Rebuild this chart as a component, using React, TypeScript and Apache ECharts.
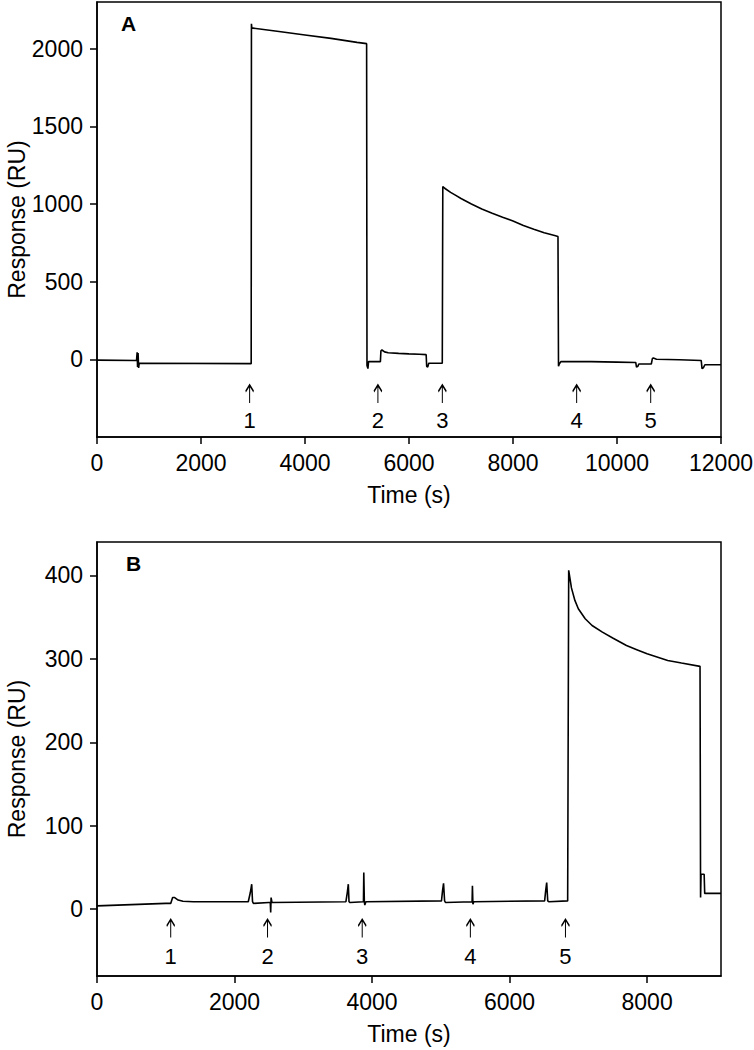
import React, { useEffect, useRef } from "react";
import * as echarts from "echarts";

// ---------- Panel A data ----------
const timeA = [
  0, 760, 772, 780, 790, 800, 812, 825, 2965, 2970, 2978, 3000, 3500, 4000, 4500, 5000,
  5185, 5192, 5210, 5222, 5240, 5450, 5460, 5480, 5530, 5600, 5800, 6000, 6200, 6330,
  6340, 6360, 6380, 6640, 6650, 6660, 6700, 6800, 6900, 7000, 7200, 7400, 7600, 7800,
  8000, 8200, 8400, 8600, 8800, 8865, 8875, 8890, 8920, 9500, 10000, 10360, 10375,
  10400, 10420, 10660, 10680, 10700, 10760, 11200, 11620, 11635, 11660, 11690, 12000,
];
const responseA = [
  -5, -8, 45, -50, 40, -55, -25, -25, -28, 2160, 2130, 2132, 2110, 2088, 2066, 2040,
  2032, -40, -60, -15, -15, -15, 55, 60, 48, 42, 38, 35, 33, 30,
  -45, -50, -25, -25, 1112, 1108, 1098, 1075, 1055, 1035, 1000, 968, 940, 914,
  891, 862, 838, 815, 797, 790, -45, -30, -15, -15, -18, -20, -50,
  -45, -30, -30, 5, 8, 0, -3, -8, -60, -55, -35, -35,
];
const arrowTimesA = [2935, 5402, 6641, 9224, 10648];

// ---------- Panel B data ----------
const timeB = [
  0, 1000, 1072, 1100, 1130, 1180, 1250, 1400, 2200, 2230, 2250, 2262, 2275, 2500, 2520,
  2526, 2532, 2545, 3620, 3640, 3655, 3665, 3680, 3875, 3880, 3888, 3895, 3910, 5010,
  5025, 5040, 5055, 5070, 5455, 5460, 5467, 5480, 6510, 6525, 6540, 6555, 6570, 6845,
  6860, 6900, 6950, 7000, 7100, 7200, 7350, 7500, 7700, 7850, 8000, 8300, 8500, 8770,
  8778, 8785, 8830, 8838, 9075,
];
const responseB = [
  4, 7, 7, 14, 14, 11, 9.5, 9, 9, 20, 30, 9, 7, 8, 8,
  -4, 14, 8, 9, 20, 30, 9, 8, 9, 44, 9, 5, 9, 10,
  22, 31, 10, 8, 9, 28, 6, 9, 10, 22, 32, 10, 9, 10,
  406, 385, 370, 360, 348, 340, 332, 325, 316, 311, 306, 298, 295, 291,
  14, 42, 42, 19, 19,
];
const arrowTimesB = [1072, 2480, 3857, 5430, 6813];

const arrowLabels = ["1", "2", "3", "4", "5"];
const xTicksA = [0, 2000, 4000, 6000, 8000, 10000, 12000];
const yTicksA = [0, 500, 1000, 1500, 2000];
const xTicksB = [0, 2000, 4000, 6000, 8000];
const yTicksB = [0, 100, 200, 300, 400];

const FONT = "'Liberation Sans', Arial, sans-serif";
const ARROW = "path://M4,0 L4,22 M0.8,8 L4,0 L7.2,8";

const zip = (xs: number[], ys: number[]) => xs.map((x, i) => [x, ys[i]]);

export default function App() {
  const ref = useRef<HTMLDivElement>(null);
  useEffect(() => {
    if (!ref.current) return;
    const chart = echarts.init(ref.current, null, { renderer: "svg" });
    const axisCommon = {
      axisLine: { show: true, onZero: false, lineStyle: { color: "#000", width: 1.5 } },
      axisTick: { show: true, inside: false, length: 7, lineStyle: { color: "#000", width: 1.5 } },
      splitLine: { show: false },
      nameMoveOverlap: false,
      nameTextStyle: { color: "#000", fontSize: 23, fontFamily: FONT },
    };
    const labelStyle = (ticks: number[]) => ({
      customValues: ticks,
      color: "#000",
      fontSize: 23,
      fontFamily: FONT,
      margin: 14,
      formatter: (v: number) => String(v),
    });
    const xAxis = (idx: number, max: number, ticks: number[]) => ({
      ...axisCommon,
      type: "value",
      gridIndex: idx,
      min: 0,
      max,
      name: "Time (s)",
      nameLocation: "middle",
      nameGap: 46,
      axisTick: { ...axisCommon.axisTick, customValues: ticks },
      axisLabel: labelStyle(ticks),
    });
    const yAxis = (idx: number, min: number, max: number, ticks: number[]) => ({
      ...axisCommon,
      type: "value",
      gridIndex: idx,
      min,
      max,
      name: "Response (RU)",
      nameLocation: "middle",
      nameGap: 69,
      axisTick: { ...axisCommon.axisTick, customValues: ticks },
      axisLabel: labelStyle(ticks),
    });
    const arrowSeries = (idx: number, times: number[], yPos: number, dist: number) => ({
      type: "scatter",
      xAxisIndex: idx,
      yAxisIndex: idx,
      symbol: ARROW,
      symbolSize: [8, 18],
      itemStyle: { color: "none", borderColor: "#000", borderWidth: 1.5, opacity: 1 },
      label: {
        show: true,
        position: "bottom",
        distance: dist,
        formatter: (p: any) => arrowLabels[p.dataIndex],
        color: "#000",
        fontSize: 22,
        fontFamily: FONT,
      },
      emphasis: { disabled: true },
      data: times.map((t) => [t, yPos]),
      z: 5,
    });
    chart.setOption({
      animation: false,
      backgroundColor: "#fff",
      grid: [
        { left: 97, top: 2, width: 624, height: 435, show: true, borderColor: "#000", borderWidth: 1.5, containLabel: false, outerBoundsMode: "none" },
        { left: 97, top: 542, width: 624, height: 434, show: true, borderColor: "#000", borderWidth: 1.5, containLabel: false, outerBoundsMode: "none" },
      ],
      xAxis: [xAxis(0, 12000, xTicksA), xAxis(1, 9075, xTicksB)],
      yAxis: [yAxis(0, -500, 2300, yTicksA), yAxis(1, -80, 440, yTicksB)],
      graphic: [
        { type: "text", left: 121, top: 13, style: { text: "A", fontSize: 21, fontWeight: "bold", fontFamily: FONT, fill: "#000" } },
        { type: "text", left: 126, top: 553, style: { text: "B", fontSize: 21, fontWeight: "bold", fontFamily: FONT, fill: "#000" } },
      ],
      series: [
        {
          type: "line",
          xAxisIndex: 0,
          yAxisIndex: 0,
          data: zip(timeA, responseA),
          showSymbol: false,
          lineStyle: { color: "#000", width: 1.6 },
          z: 3,
        },
        {
          type: "line",
          xAxisIndex: 1,
          yAxisIndex: 1,
          data: zip(timeB, responseB),
          showSymbol: false,
          lineStyle: { color: "#000", width: 1.6 },
          z: 3,
        },
        arrowSeries(0, arrowTimesA, -223, 3),
        arrowSeries(1, arrowTimesB, -23, 4),
      ],
    });
    return () => chart.dispose();
  }, []);
  return (
    <div
      ref={ref}
      style={{ position: "absolute", left: 0, top: 0, width: 754, height: 1050, background: "#fff" }}
    />
  );
}
